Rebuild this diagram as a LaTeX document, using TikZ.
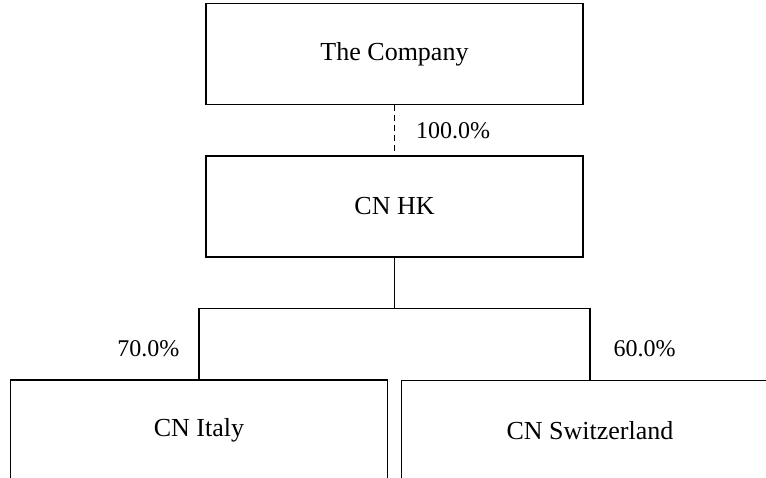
\documentclass[tikz,border=0pt]{standalone}
\usepackage{fontspec}
\setmainfont{Liberation Serif}
\tikzset{
  entity/.style={draw, line width=0.6pt, inner sep=0pt, minimum width=188.5pt, minimum height=50.5pt, font=\fontsize{13}{15}\selectfont},
  share/.style={font=\fontsize{12}{14}\selectfont, inner sep=0pt},
  link/.style={line width=0.6pt}
}
\begin{document}
\begin{tikzpicture}[x=0.5pt, y=-0.5pt]
\useasboundingbox (0,0) rectangle (766,477);
\clip (0,0) rectangle (766,477);
% boxes
\node[entity] (company) at (394.5,54) {The Company};
\node[entity] (hk) at (394.5,206.5) {CN HK};
\node[entity] (italy) at (199,430.5) {CN Italy};
\node[entity] (swiss) at (590,431) {CN Switzerland};
\coordinate (split) at (394.5,308.5);
% ownership lines
\draw[link, dash pattern=on 3pt off 2pt] (company) -- node[share, right=10.5pt] {100.0\%} (hk);
\draw[link] (hk) -- (split);
\draw[link] (split) -| node[share, pos=0.78, left=9.5pt] {70.0\%} (italy);
\draw[link] (split) -| node[share, pos=0.78, right=11.5pt] {60.0\%} (swiss);
\end{tikzpicture}
\end{document}
